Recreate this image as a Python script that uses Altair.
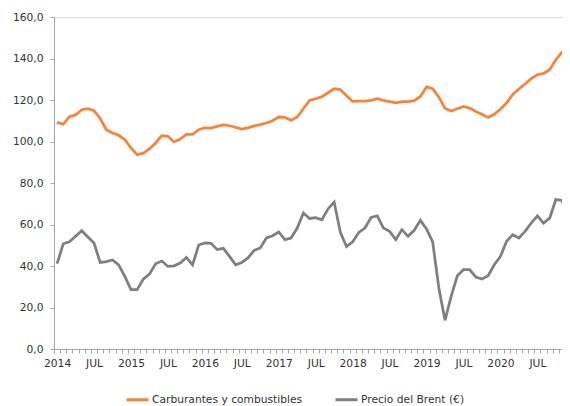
import altair as alt
import pandas as pd

# ---- data (monthly, Jan 2014 onwards) ----
years = ["2014", "2015", "2016", "2017", "2018", "2019", "2020"]
mid_label = "JUL"
y_ticks = [0, 20, 40, 60, 80, 100, 120, 140, 160]
series_names = ["Carburantes y combustibles", "Precio del Brent (€)"]
series_colors = ["#F9823A", "#7F7F7F"]

carburantes = [
    109.2, 108.3, 112.0, 112.8, 115.3, 115.8, 114.8, 111.1, 105.7, 104.1, 103.0, 100.9,  # 2014
    96.9, 93.6, 94.4, 96.4, 99.3, 102.8, 102.5, 99.8, 101.2, 103.4, 103.4, 105.7,        # 2015
    106.6, 106.5, 107.3, 108.0, 107.6, 106.8, 106.0, 106.6, 107.5, 108.1, 108.9, 110.0,  # 2016
    111.8, 111.6, 110.2, 111.8, 115.8, 119.8, 120.6, 121.6, 123.5, 125.4, 125.0, 122.1,  # 2017
    119.3, 119.5, 119.5, 119.8, 120.6, 119.8, 119.2, 118.6, 119.2, 119.2, 119.7, 121.7,  # 2018
    126.3, 125.4, 121.4, 116.0, 114.7, 115.8, 116.9, 116.1, 114.5, 113.1, 111.6, 113.1,  # 2019
    115.7, 118.6, 122.7, 125.3, 127.7, 130.3, 132.2, 132.8, 134.6, 139.4, 143.1, 143.4,  # 2020
]
brent = [
    41.1, 50.7, 51.7, 54.3, 57.0, 54.0, 51.1, 41.7, 42.1, 42.9, 40.5, 35.0,  # 2014
    28.6, 28.6, 33.7, 36.1, 41.1, 42.4, 39.8, 40.1, 41.4, 44.1, 40.5, 50.1,  # 2015
    51.1, 50.9, 47.9, 48.5, 44.6, 40.6, 41.7, 43.9, 47.5, 48.7, 53.5, 54.6,  # 2016
    56.4, 52.7, 53.5, 58.3, 65.5, 62.9, 63.3, 62.3, 67.5, 70.8, 56.2, 49.4,  # 2017
    51.7, 56.2, 58.3, 63.4, 64.2, 58.3, 56.7, 52.7, 57.5, 54.3, 57.2, 62.0,  # 2018
    57.8, 51.6, 29.4, 13.8, 25.4, 35.3, 38.2, 38.2, 34.7, 33.7, 35.3, 40.6,  # 2019
    44.6, 51.9, 55.1, 53.5, 56.7, 60.7, 64.2, 60.7, 63.1, 72.0, 71.6, 62.5,  # 2020
]

rows = []
for name, vals in zip(series_names, [carburantes, brent]):
    for i, v in enumerate(vals):
        rows.append({"m": i, "v": v, "serie": name})
df = pd.DataFrame(rows)

n_months = len(carburantes)
tick_labels = []
for i in range(n_months):
    if i % 12 == 0:
        tick_labels.append(years[i // 12])
    elif i % 12 == 6:
        tick_labels.append(mid_label)
    else:
        tick_labels.append("")
label_array = "[" + ",".join("'" + t + "'" for t in tick_labels) + "]"

FONT = "DejaVu Sans"
FS = 10.7
TXT = "#333333"
AXC = "#A6A6A6"
PLOT_W = 508
X_DOMAIN = [-0.5, 82.0]
month_px = PLOT_W / (X_DOMAIN[1] - X_DOMAIN[0])

chart = alt.Chart(df).mark_line(strokeWidth=2.75, clip=True).encode(
    x=alt.X(
        "m:Q",
        scale=alt.Scale(domain=X_DOMAIN, nice=False, zero=False),
        axis=alt.Axis(
            title=None,
            values=list(range(n_months - 1)),
            labelExpr=label_array + "[datum.value]",
            tickOffset=-month_px / 2,
            labelOffset=month_px / 2,
            tickSize=4,
            tickColor=AXC,
            domainColor=AXC,
            grid=False,
            labelOverlap=False,
            labelFlush=False,
            labelFont=FONT,
            labelFontSize=FS,
            labelColor=TXT,
            labelPadding=5,
        ),
    ),
    y=alt.Y(
        "v:Q",
        scale=alt.Scale(domain=[0, 160], nice=False),
        axis=alt.Axis(
            title=None,
            values=y_ticks,
            labelExpr="replace(format(datum.value, '.1f'), '.', ',')",
            tickSize=4,
            tickColor=AXC,
            domainColor=AXC,
            grid=False,
            labelFont=FONT,
            labelFontSize=FS,
            labelColor=TXT,
            labelPadding=7,
        ),
    ),
    color=alt.Color(
        "serie:N",
        scale=alt.Scale(domain=series_names, range=series_colors),
        sort=series_names,
        legend=alt.Legend(
            title=None,
            orient="none",
            legendX=71,
            legendY=370,
            direction="horizontal",
            symbolType="stroke",
            symbolSize=484,
            symbolStrokeWidth=3,
            labelFont=FONT,
            labelFontSize=FS,
            labelColor=TXT,
            labelOffset=2,
            columnPadding=26,
            padding=0,
        ),
    ),
).properties(
    width=PLOT_W,
    height=332,
    autosize=alt.AutoSizeParams(type="none"),
    padding={"left": 46, "top": 9, "right": 0, "bottom": 57},
).configure_view(stroke=None).configure(background="white")

chart.save("out.html", embed_options={"renderer": "svg", "actions": False})
